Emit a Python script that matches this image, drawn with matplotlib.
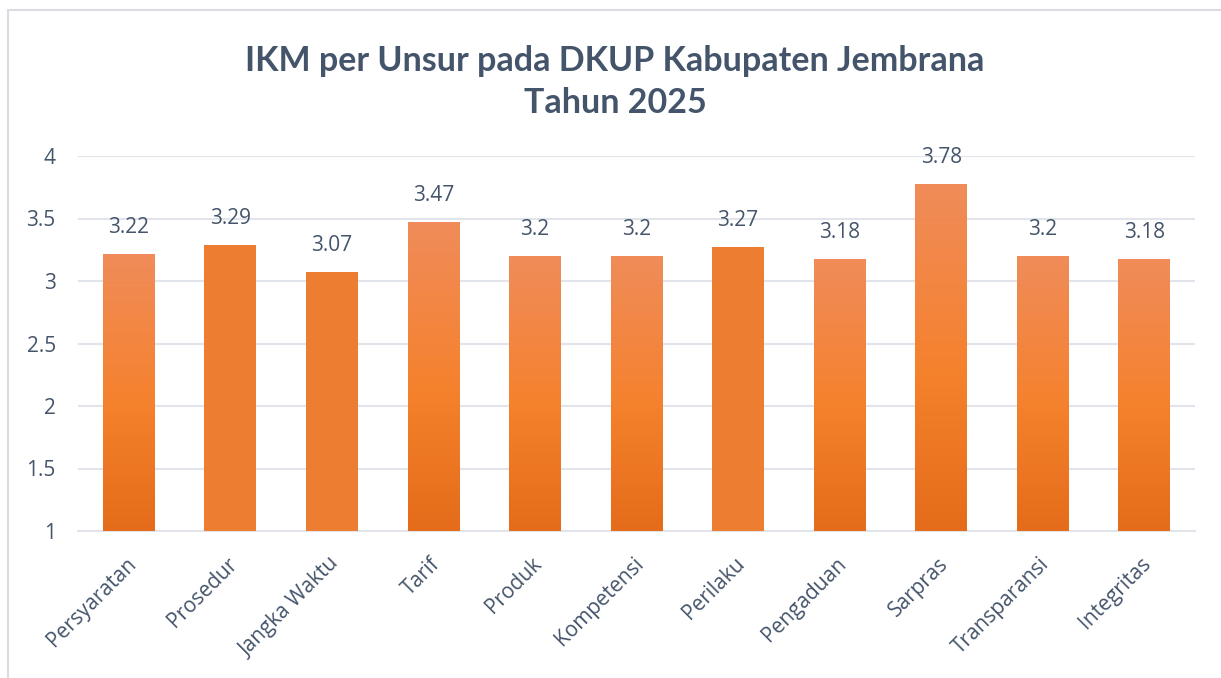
import matplotlib
matplotlib.use("Agg")
import matplotlib.pyplot as plt
import matplotlib.transforms as mtransforms
import numpy as np
from matplotlib.colors import LinearSegmentedColormap
from matplotlib.patches import Rectangle

categories = ["Persyaratan", "Prosedur", "Jangka Waktu", "Tarif", "Produk",
              "Kompetensi", "Perilaku", "Pengaduan", "Sarpras", "Transparansi",
              "Integritas"]
values = [3.22, 3.29, 3.07, 3.47, 3.2, 3.2, 3.27, 3.18, 3.78, 3.2, 3.18]
value_labels = ["3.22", "3.29", "3.07", "3.47", "3.2", "3.2", "3.27", "3.18",
                "3.78", "3.2", "3.18"]
gradient_bar = [True, False, False, True, True, True, False, True, True, True, True]
yticks = [1, 1.5, 2, 2.5, 3, 3.5, 4]
ytick_labels = ["1", "1.5", "2", "2.5", "3", "3.5", "4"]
title = "IKM per Unsur pada DKUP Kabupaten Jembrana\nTahun 2025"

text_color = "#44546A"
grid_color = "#E1E4EA"
flat_color = "#ED7D31"
cmap = LinearSegmentedColormap.from_list(
    "grad", [(0.0, "#F08C5A"), (0.55, "#F5812C"), (1.0, "#E46C1A")])

W, H = 1221, 678
fig = plt.figure(figsize=(W / 100, H / 100), dpi=100)
fig.patch.set_facecolor("white")

# outer border
fig.add_artist(Rectangle((8 / W, -0.05), 1.2, (H - 10) / H + 0.05,
                         transform=fig.transFigure, fill=False,
                         edgecolor="#D9DDE3", linewidth=1.5))

ax = fig.add_axes([78 / W, (H - 531) / H, (1195 - 78) / W, (531 - 156) / H])
x = np.arange(len(categories))
bars = ax.bar(x, [v - 1 for v in values], bottom=1, width=0.51,
              color=flat_color, zorder=3)

for b, g in zip(bars, gradient_bar):
    if g:
        b.set_facecolor("none")
        x0, y0 = b.get_x(), b.get_y()
        x1, y1 = x0 + b.get_width(), y0 + b.get_height()
        im = ax.imshow(np.linspace(0, 1, 256).reshape(-1, 1), cmap=cmap,
                       extent=(x0, x1, y0, y1), origin="upper",
                       aspect="auto", zorder=3)
        im.set_clip_path(b)
ax.set_xlim(-0.5, len(categories) - 0.5)
ax.set_ylim(1, 4)

for xi, v, lab in zip(x, values, value_labels):
    ax.annotate(lab, (xi, v), xytext=(0, 19), textcoords="offset points",
                ha="center", va="center", fontsize=15, color=text_color,
                family="Open Sans", annotation_clip=False)

ax.set_yticks(yticks)
ax.set_yticklabels(ytick_labels, family="Open Sans", fontsize=15, color=text_color)
ax.yaxis.grid(True, color=grid_color, linewidth=1.5, zorder=0)
ax.set_axisbelow(True)
ax.set_xticks(x)
ax.set_xticklabels([])
blend = mtransforms.blended_transform_factory(ax.transData, ax.transAxes)
for xi, cat in zip(x, categories):
    ax.annotate(cat, (xi, 0), xycoords=blend, xytext=(-2.5, -16),
                textcoords="offset points", rotation=45, ha="right", va="top",
                rotation_mode="anchor", family="Open Sans", fontsize=15,
                color=text_color, annotation_clip=False)
ax.tick_params(axis="both", length=0)
ax.tick_params(axis="y", pad=16)
for s in ["top", "right", "left"]:
    ax.spines[s].set_visible(False)
ax.spines["bottom"].set_color(grid_color)
ax.spines["bottom"].set_linewidth(1.5)

fig.text(615 / W, 1 - 82 / H, title, ha="center", va="center",
         fontsize=24.5, fontweight="bold", color=text_color, family="Lato",
         linespacing=1.35)

fig.savefig("out.png", dpi=100, facecolor="white")
